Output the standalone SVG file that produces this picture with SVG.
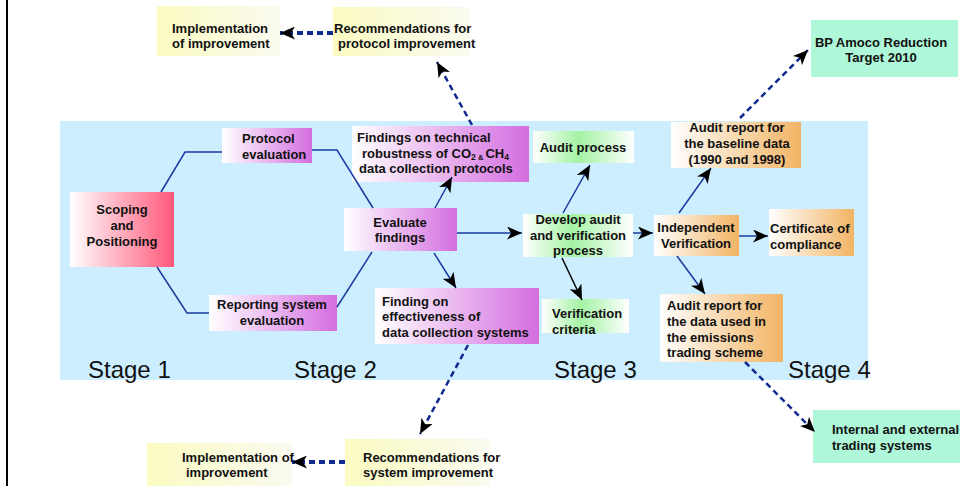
<svg xmlns="http://www.w3.org/2000/svg" width="973" height="486" viewBox="0 0 973 486">
<defs>
<linearGradient id="gPink" x1="0" y1="0" x2="1" y2="0"><stop offset="0" stop-color="#ffffff"/><stop offset="1" stop-color="#ff587a"/></linearGradient>
<linearGradient id="gMag" x1="0" y1="0" x2="1" y2="0"><stop offset="0" stop-color="#ffffff"/><stop offset="1" stop-color="#d46ee0"/></linearGradient>
<linearGradient id="gOr" x1="0" y1="0" x2="1" y2="0"><stop offset="0" stop-color="#ffffff"/><stop offset="1" stop-color="#f2b464"/></linearGradient>
<linearGradient id="gGr" x1="0" y1="0" x2="1" y2="0"><stop offset="0" stop-color="#ffffff"/><stop offset="0.45" stop-color="#a4f2a4"/><stop offset="1" stop-color="#ffffff"/></linearGradient>
<linearGradient id="gYe" x1="0" y1="0" x2="1" y2="0"><stop offset="0" stop-color="#fbfbc2"/><stop offset="1" stop-color="#fafaf0"/></linearGradient>
<marker id="ah" markerUnits="userSpaceOnUse" markerWidth="15" markerHeight="13" refX="15" refY="6.5" orient="auto">
<path d="M0,0 L15,6.5 L0,13 L4,6.5 z" fill="#000"/>
</marker>
<style>
.t{font-family:"Liberation Sans",Arial,sans-serif;font-size:13px;font-weight:bold;fill:#111}
.m{text-anchor:middle}
.st{font-family:"Liberation Sans",Arial,sans-serif;font-size:24px;fill:#111}
.ln{fill:none;stroke:#1a3aa0;stroke-width:1.5}
.ar{fill:none;stroke:#1a3aa0;stroke-width:1.5;marker-end:url(#ah)}
.da{fill:none;stroke:#102a90;stroke-width:2.5;stroke-dasharray:6,4;marker-end:url(#ah)}
.dt{fill:none;stroke:#102a90;stroke-width:4;stroke-dasharray:6,4;marker-end:url(#ah)}
</style>
</defs>
<rect x="0" y="0" width="973" height="486" fill="#ffffff"/>
<line x1="7" y1="0" x2="7" y2="486" stroke="#000" stroke-width="2"/>
<rect x="60" y="121" width="808" height="259" fill="#cdeeff"/>
<g id="stages">
<text class="st" x="88" y="378">Stage 1</text>
<text class="st" x="294" y="378">Stage 2</text>
<text class="st" x="554" y="378">Stage 3</text>
<text class="st" x="788" y="378">Stage 4</text>
</g>
<g id="n-impl-top"><rect x="157" y="6" width="123" height="50" fill="url(#gYe)"/>
<text class="t" x="172" y="33">Implementation</text><text class="t" x="172" y="48">of improvement</text></g>
<g id="n-rec-protocol"><rect x="333" y="7" width="137" height="49" fill="url(#gYe)"/>
<text class="t" x="334" y="33">Recommendations for</text><text class="t" x="338" y="48">protocol improvement</text></g>
<g id="n-bp"><rect x="811" y="20" width="147" height="57" fill="#aef7d8"/>
<text class="t m" x="881" y="47">BP Amoco Reduction</text><text class="t m" x="881" y="62">Target 2010</text></g>
<g id="n-scoping"><rect x="70" y="192" width="104" height="75" fill="url(#gPink)"/>
<text class="t m" x="122" y="214">Scoping</text><text class="t m" x="122" y="230">and</text><text class="t m" x="122" y="246">Positioning</text></g>
<g id="n-protocol"><rect x="222" y="128" width="90" height="35" fill="url(#gMag)"/>
<text class="t" x="242" y="143">Protocol</text><text class="t" x="242" y="159">evaluation</text></g>
<g id="n-reporting"><rect x="209" y="295" width="128" height="36" fill="url(#gMag)"/>
<text class="t m" x="272" y="309">Reporting system</text><text class="t m" x="272" y="325">evaluation</text></g>
<g id="n-findings-tech"><rect x="352" y="126" width="177" height="56" fill="url(#gMag)"/>
<text class="t" x="357" y="142">Findings on technical</text>
<text class="t" x="362" y="158">robustness of CO<tspan font-size="8.5" dy="2">2</tspan><tspan font-size="7.5"> &amp; </tspan><tspan dy="-2">CH</tspan><tspan font-size="8.5" dy="2">4</tspan></text>
<text class="t" x="359" y="173">data collection protocols</text></g>
<g id="n-evaluate"><rect x="344" y="208" width="113" height="43" fill="url(#gMag)"/>
<text class="t m" x="400" y="227">Evaluate</text><text class="t m" x="400" y="242">findings</text></g>
<g id="n-findings-eff"><rect x="375" y="288" width="164" height="56" fill="url(#gMag)"/>
<text class="t" x="382" y="306">Finding on</text><text class="t" x="382" y="321">effectiveness of</text><text class="t" x="382" y="337">data collection systems</text></g>
<g id="n-audit-process"><rect x="533" y="131" width="101" height="32" fill="url(#gGr)"/>
<text class="t m" x="583" y="152">Audit process</text></g>
<g id="n-develop"><rect x="523" y="214" width="110" height="43" fill="url(#gGr)"/>
<text class="t m" x="578" y="224">Develop audit</text><text class="t m" x="578" y="240">and verification</text><text class="t m" x="578" y="255">process</text></g>
<g id="n-ver-criteria"><rect x="542" y="299" width="87" height="34" fill="url(#gGr)"/>
<text class="t" x="552" y="318">Verification</text><text class="t" x="552" y="334">criteria</text></g>
<g id="n-audit-baseline"><rect x="671" y="122" width="130" height="46" fill="url(#gOr)"/>
<text class="t m" x="737" y="132">Audit report for</text><text class="t m" x="737" y="148">the baseline data</text><text class="t m" x="737" y="164">(1990 and 1998)</text></g>
<g id="n-independent"><rect x="654" y="215" width="85" height="41" fill="url(#gOr)"/>
<text class="t m" x="696" y="232">Independent</text><text class="t m" x="696" y="248">Verification</text></g>
<g id="n-certificate"><rect x="769" y="209" width="85" height="47" fill="url(#gOr)"/>
<text class="t" x="770" y="233">Certificate of</text><text class="t" x="770" y="249">compliance</text></g>
<g id="n-audit-ets"><rect x="660" y="294" width="123" height="68" fill="url(#gOr)"/>
<text class="t" x="667" y="310">Audit report for</text><text class="t" x="667" y="326">the data used in</text><text class="t" x="667" y="342">the emissions</text><text class="t" x="667" y="357">trading scheme</text></g>
<g id="n-internal"><rect x="813" y="410" width="147" height="53" fill="#aef7d8"/>
<text class="t" x="832" y="434">Internal and external</text><text class="t" x="832" y="450">trading systems</text></g>
<g id="n-rec-system"><rect x="345" y="439" width="145" height="47" fill="url(#gYe)"/>
<text class="t" x="363" y="462">Recommendations for</text><text class="t" x="363" y="477">system improvement</text></g>
<g id="n-impl-bottom"><rect x="147" y="443" width="145" height="43" fill="url(#gYe)"/>
<text class="t" x="182" y="462">Implementation of</text><text class="t" x="186" y="477">improvement</text></g>
<g id="connectors">
<polyline class="ln" points="161,192 185,152 222,152"/>
<polyline class="ln" points="312,150 337,150 373,208"/>
<polyline class="ln" points="157,267 187,313 209,313"/>
<polyline class="ln" points="337,307 372,252"/>
<line class="ar" x1="435" y1="208" x2="452" y2="177"/>
<line class="ar" x1="457" y1="233" x2="522" y2="233"/>
<line class="ar" x1="434" y1="253" x2="456" y2="288"/>
<line class="ar" x1="563" y1="213" x2="590" y2="165"/>
<line class="ar" x1="562" y1="258" x2="582" y2="300" style="stroke:#000"/>
<line class="ar" x1="633" y1="233" x2="653" y2="233"/>
<line class="ar" x1="679" y1="213" x2="711" y2="168"/>
<line class="ar" x1="739" y1="236" x2="768" y2="236"/>
<line class="ar" x1="677" y1="256" x2="705" y2="294"/>
<line class="dt" x1="333" y1="33" x2="280" y2="33"/>
<line class="da" x1="472" y1="125" x2="437" y2="62"/>
<line class="da" x1="740" y1="118" x2="808" y2="50"/>
<line class="da" x1="468" y1="345" x2="420" y2="434"/>
<line class="da" x1="745" y1="362" x2="815" y2="432"/>
<line class="dt" x1="345" y1="462" x2="292" y2="462"/>
</g>
</svg>
